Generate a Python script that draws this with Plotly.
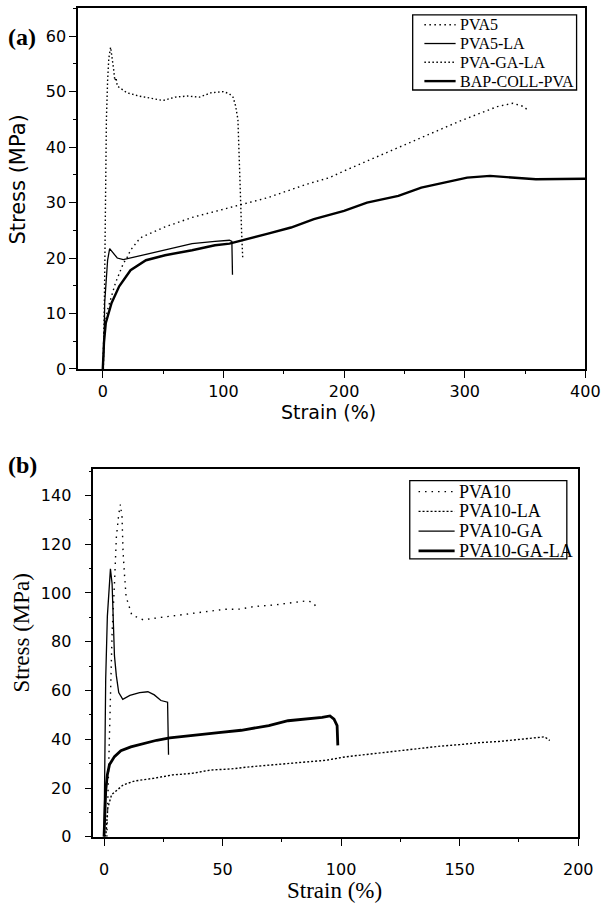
import plotly.graph_objects as go

# ---------------- Panel (a) data ----------------
pva5_x = [0, 1, 4, 7.3, 10.5, 17, 20, 23, 29.5, 32.6, 51.6, 73.8, 105, 137, 169, 188, 200, 232, 264, 295, 327, 340, 349, 352]
pva5_y = [0, 7, 10.7, 13, 15.5, 19, 20, 21.4, 23.2, 23.8, 25.6, 27.3, 29.1, 30.9, 33.3, 34.5, 35.7, 38.7, 41.7, 44.6, 47.3, 47.9, 47.3, 46.7]

pva5la_x = [0.3, 1, 1.6, 2.5, 4, 5.7, 8, 12, 17, 25, 42, 58, 74, 93, 105, 107, 107.3, 107.5]
pva5la_y = [0, 4, 12, 15.5, 19.6, 21.7, 21, 20, 19.7, 20.1, 21, 21.7, 22.6, 23, 23.2, 23, 20, 17]

pvagala_x = [0.5, 1, 1.5, 2, 2.5, 3, 4, 5, 6.5, 8, 9, 10, 11, 12, 15, 20, 30, 40, 50, 60, 70, 80, 90, 100, 105, 108, 110, 112, 113, 114, 115, 116]
pvagala_y = [0, 5, 15, 25, 35, 45, 52, 56, 58, 56, 54, 52, 52.5, 51, 50.5, 49.8, 49.2, 48.8, 48.4, 49, 49.2, 49, 49.8, 50, 49.6, 49, 47.5, 45, 40, 32, 25, 20]

bap_x = [0, 1, 2.5, 7.3, 13.6, 23, 35.8, 51.6, 74, 93, 105, 118, 137, 156, 175, 200, 219, 245, 264, 283, 302, 321, 340, 359, 400]
bap_y = [0, 4.8, 8.3, 11.9, 14.9, 17.8, 19.6, 20.5, 21.4, 22.3, 22.6, 23.3, 24.4, 25.5, 27, 28.5, 30, 31.2, 32.7, 33.6, 34.5, 34.8, 34.5, 34.2, 34.3]

# ---------------- Panel (b) data ----------------
pva10_x = [1.2, 2.0, 2.7, 3.4, 4.4, 5.2, 6.2, 6.9, 7.6, 8.0, 8.6, 9.3, 11.7, 16.5, 23.3, 32.9, 41.1, 50.7, 57.6, 63, 72.7, 82.4, 85.6, 88, 89.7]
pva10_y = [0, 30, 63.3, 83.6, 103.8, 122.9, 132.3, 136.3, 131, 117.4, 107.9, 98.5, 91, 89, 89.9, 91, 92, 93.3, 93.4, 94.4, 95.2, 96.6, 96.8, 96.2, 94.1]

pva10la_x = [0.3, 0.8, 1.6, 3.2, 4.8, 8.1, 12.9, 21, 29, 37, 45, 53.3, 61.4, 69.5, 77.6, 85.6, 93.7, 101.8, 110, 118, 126, 134, 142, 150, 158, 166.4, 174.5, 182.6, 185.8, 188]
pva10la_y = [0, 1, 11.9, 17.3, 18.6, 21.3, 22.9, 24, 25.4, 26, 27.4, 27.8, 28.7, 29.4, 30, 30.8, 31.4, 32.8, 33.7, 34.5, 35.5, 36.4, 37.2, 37.8, 38.6, 39.1, 39.9, 40.7, 41, 39.5]

pva10ga_x = [0, 0.3, 0.7, 1.4, 2.1, 2.7, 3.4, 3.8, 4.4, 5.2, 6.2, 7.9, 10.9, 15, 18.5, 21.2, 24, 26.8, 27.2]
pva10ga_y = [0, 39.7, 64.6, 90.4, 103.8, 109.9, 103.8, 87.6, 74.2, 66, 59.2, 56.4, 58, 59.1, 59.5, 58.2, 55.9, 55.2, 33.7]

pva10gala_x = [0, 0.3, 0.7, 1.4, 2.3, 4.4, 7.1, 11.3, 16.8, 22.2, 27.7, 34.6, 41.4, 48.3, 57.9, 61.4, 69.5, 77.6, 85.6, 92, 95.3, 97, 98.3, 98.6]
pva10gala_y = [0, 9.2, 18.7, 25.5, 29.6, 32.9, 35.3, 36.9, 38.3, 39.6, 40.6, 41.4, 42.1, 42.7, 43.7, 44.2, 45.6, 47.6, 48.3, 49, 49.6, 48.3, 45.6, 37.5]

names_a = ["PVA5", "PVA5-LA", "PVA-GA-LA", "BAP-COLL-PVA"]
names_b = ["PVA10", "PVA10-LA", "PVA10-GA", "PVA10-GA-LA"]

xticks_a = [0, 100, 200, 300, 400]
yticks_a = [0, 10, 20, 30, 40, 50, 60]
xticks_b = [0, 50, 100, 150, 200]
yticks_b = [0, 20, 40, 60, 80, 100, 120, 140]

W, H = 615, 920

styles_a = [
    dict(color="black", width=1.4, dash="1.5px,3.5px"),
    dict(color="black", width=1.3, dash="solid"),
    dict(color="black", width=1.4, dash="1.5px,2.5px"),
    dict(color="black", width=2.4, dash="solid"),
]
styles_b = [
    dict(color="black", width=1.4, dash="1.5px,5px"),
    dict(color="black", width=1.4, dash="2px,2px"),
    dict(color="black", width=1.3, dash="solid"),
    dict(color="black", width=2.8, dash="solid"),
]

fig = go.Figure()
data_a = [(pva5_x, pva5_y), (pva5la_x, pva5la_y), (pvagala_x, pvagala_y), (bap_x, bap_y)]
data_b = [(pva10_x, pva10_y), (pva10la_x, pva10la_y), (pva10ga_x, pva10ga_y), (pva10gala_x, pva10gala_y)]

for (xs, ys), nm, st in zip(data_a, names_a, styles_a):
    fig.add_trace(go.Scatter(x=xs, y=ys, name=nm, mode="lines", line=st,
                             xaxis="x", yaxis="y", showlegend=False))
for (xs, ys), nm, st in zip(data_b, names_b, styles_b):
    fig.add_trace(go.Scatter(x=xs, y=ys, name=nm, mode="lines", line=st,
                             xaxis="x2", yaxis="y2", showlegend=False))

def px2fx(px):
    return px / W

def py2fy(py):
    return 1 - py / H

tickfont = dict(family="DejaVu Sans", size=16, color="black")
common = dict(showline=True, linecolor="black", linewidth=1.5, mirror=True,
              ticks="outside", ticklen=7, tickwidth=1.2, tickcolor="black",
              showgrid=False, zeroline=False, tickfont=tickfont)

def minor(d):
    return dict(dtick=d, tick0=0, ticklen=3, ticks="outside", tickcolor="black", showgrid=False)

fig.update_layout(
    width=W, height=H, margin=dict(l=0, r=0, t=0, b=0),
    paper_bgcolor="white", plot_bgcolor="white",
    xaxis=dict(domain=[px2fx(80), px2fx(600)], range=[-20.5, 400], anchor="y",
               tickvals=xticks_a, minor=minor(50), ticklabelstandoff=0, **common),
    yaxis=dict(domain=[py2fy(373), py2fy(8.5)], range=[0, 65], anchor="x",
               tickvals=yticks_a, minor=minor(5), **common),
    xaxis2=dict(domain=[px2fx(95.7), px2fx(592.7)], range=[-4.5, 200], anchor="y2",
                tickvals=xticks_b, minor=minor(25), ticklabelstandoff=10, **common),
    yaxis2=dict(domain=[py2fy(846), py2fy(474.3)], range=[0, 150.8], anchor="x2",
                tickvals=yticks_b, minor=minor(10), ticklabelstandoff=10, **common),
)

ann = []
# panel labels
ann.append(dict(text="<b>(a)</b>", x=px2fx(6), y=py2fy(37), xanchor="left", yanchor="middle",
                font=dict(family="Liberation Serif", size=24, color="black")))
ann.append(dict(text="<b>(b)</b>", x=px2fx(6), y=py2fy(470), xanchor="left", yanchor="middle",
                font=dict(family="Liberation Serif", size=24, color="black")))
# axis titles
ann.append(dict(text="Stress (MPa)", x=px2fx(18), y=py2fy(182), textangle=-90, xanchor="center", yanchor="middle",
                font=dict(family="DejaVu Sans", size=21, color="black")))
ann.append(dict(text="Strain (%)", x=px2fx(337), y=py2fy(417), xanchor="center", yanchor="middle",
                font=dict(family="DejaVu Sans", size=19, color="black")))
ann.append(dict(text="Stress (MPa)", x=px2fx(22), y=py2fy(640), textangle=-90, xanchor="center", yanchor="middle",
                font=dict(family="Liberation Serif", size=23, color="black")))
ann.append(dict(text="Strain (%)", x=px2fx(343), y=py2fy(900), xanchor="center", yanchor="middle",
                font=dict(family="Liberation Serif", size=23, color="black")))

shapes = []
# legend (a)
shapes.append(dict(type="rect", xref="paper", yref="paper", x0=px2fx(423), x1=px2fx(591), y0=py2fy(91), y1=py2fy(15),
                   line=dict(color="black", width=1.3), fillcolor="white", layer="above"))
rows_a = [25, 44, 63, 82]
for nm, st, ry in zip(names_a, styles_a, rows_a):
    shapes.append(dict(type="line", xref="paper", yref="paper", x0=px2fx(435), x1=px2fx(467), y0=py2fy(ry), y1=py2fy(ry),
                       line=dict(color=st["color"], width=st["width"], dash=st["dash"]), layer="above"))
    ann.append(dict(text=nm, x=px2fx(469), y=py2fy(ry), xanchor="left", yanchor="middle",
                    font=dict(family="Liberation Serif", size=16, color="black")))
# legend (b)
shapes.append(dict(type="rect", xref="paper", yref="paper", x0=px2fx(420), x1=px2fx(581), y0=py2fy(565), y1=py2fy(486),
                   line=dict(color="black", width=1.3), fillcolor="white", layer="above"))
rows_b = [497, 517, 537, 557]
for nm, st, ry in zip(names_b, styles_b, rows_b):
    shapes.append(dict(type="line", xref="paper", yref="paper", x0=px2fx(429), x1=px2fx(466), y0=py2fy(ry), y1=py2fy(ry),
                       line=dict(color=st["color"], width=st["width"], dash=st["dash"]), layer="above"))
    ann.append(dict(text=nm, x=px2fx(468), y=py2fy(ry), xanchor="left", yanchor="middle",
                    font=dict(family="Liberation Serif", size=18, color="black")))

for a in ann:
    a.update(xref="paper", yref="paper", showarrow=False)
fig.update_layout(annotations=ann, shapes=shapes)

fig.write_html("out.html")
